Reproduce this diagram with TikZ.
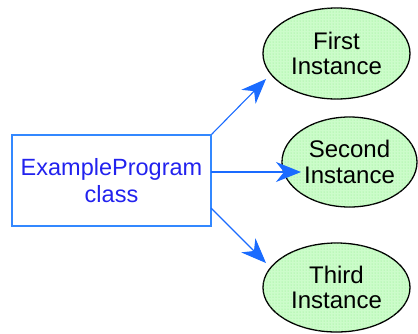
\documentclass[tikz,border=0pt]{standalone}
\usepackage{fontspec}
\setmainfont{Liberation Sans}
\usetikzlibrary{shapes.geometric,arrows.meta,patterns}
\definecolor{boxblue}{HTML}{3388FF}
\definecolor{txtblue}{HTML}{2222EE}
\definecolor{arrblue}{HTML}{1A6BFF}
\definecolor{ellfill}{HTML}{CCFCCA}
\definecolor{dotgreen}{HTML}{88EE88}
\tikzset{
  classbox/.style={draw=boxblue, line width=1.3pt, minimum width=199pt, minimum height=91pt, inner sep=0pt,
    text=txtblue, align=center, font=\fontsize{23.5}{25}\selectfont},
  inst/.style={ellipse, draw=black, line width=1.3pt, inner sep=0pt, align=center,
    fill=ellfill, postaction={pattern=dots, pattern color=dotgreen},
    font=\fontsize{24}{25.5}\selectfont},
  conn/.style={draw=arrblue, line width=1.1pt, -{Stealth[length=25pt,width=20pt,inset=8pt]}}
}
\begin{document}
\begin{tikzpicture}[x=1pt,y=-1pt]
\useasboundingbox (0,0) rectangle (418,333);
\node[classbox] (cls) at (111.5,180.5) {\raisebox{-3pt}{\shortstack{ExampleProgram\\[2pt]class}}};
\node[inst, minimum width=147pt, minimum height=91pt] (i1) at (336.5,53.5) {First\\Instance};
\node[inst, minimum width=135pt, minimum height=90pt] (i2) at (349.5,162) {Second\\Instance};
\node[inst, minimum width=147pt, minimum height=89pt] (i3) at (336.5,287.5) {Third\\Instance};
\coordinate (t1) at (266,79);
\coordinate (t2) at (301,172);
\coordinate (t3) at (266,263);
\coordinate (s2) at (211,172);
\coordinate (s3) at (211,208);
\draw[conn] (cls.north east) -- (t1);
\draw[conn] (s2) -- (t2);
\draw[conn] (s3) -- (t3);
\end{tikzpicture}
\end{document}
